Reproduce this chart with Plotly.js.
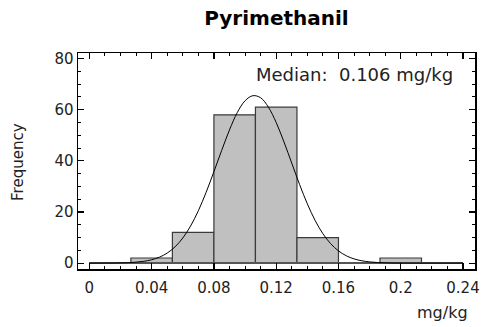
<!DOCTYPE html>
<html><head><meta charset="utf-8">
<script src="https://cdn.plot.ly/plotly-3.0.1.min.js"></script>
<style>html,body{margin:0;padding:0;background:#fff}#chart{width:482px;height:327px}</style>
</head><body><div id="chart"></div>
<script>
// Histogram bins (lower edges, mg/kg) and counts
const binLow = [0, 0.02667, 0.05333, 0.08, 0.10667, 0.13333, 0.16, 0.18667, 0.21333];
const binHigh = [0.02667, 0.05333, 0.08, 0.10667, 0.13333, 0.16, 0.18667, 0.21333, 0.24];
const counts = [0, 2, 12, 58, 61, 10, 0, 2, 0];
// Fitted normal curve
const curveX = [0, 0.005, 0.01, 0.015, 0.02, 0.025, 0.03, 0.035, 0.04, 0.045, 0.05, 0.055, 0.06, 0.065, 0.07, 0.075, 0.08, 0.085, 0.09, 0.095, 0.1, 0.105, 0.11, 0.115, 0.12, 0.125, 0.13, 0.135, 0.14, 0.145, 0.15, 0.155, 0.16, 0.165, 0.17, 0.175, 0.18, 0.185, 0.19, 0.195, 0.2, 0.21, 0.22, 0.23, 0.24];
const curveY = [0, 0.01, 0.02, 0.04, 0.09, 0.18, 0.37, 0.71, 1.31, 2.32, 3.93, 6.35, 9.82, 14.5, 20.5, 27.7, 35.8, 44.1, 52.1, 58.9, 63.5, 65.5, 64.7, 61.0, 55.0, 47.4, 39.1, 30.8, 23.2, 16.7, 11.5, 7.6, 4.79, 2.88, 1.66, 0.91, 0.48, 0.24, 0.12, 0.05, 0.02, 0, 0, 0, 0];
const xTicks = [0, 0.04, 0.08, 0.12, 0.16, 0.2, 0.24];
const yTicks = [0, 20, 40, 60, 80];
const medianLabel = "Median:  0.106 mg/kg";

const centers = binLow.map((v, i) => (v + binHigh[i]) / 2);
const widths = binLow.map((v, i) => binHigh[i] - v);
const FONT = "DejaVu Sans, sans-serif";

const traces = [
  {type: "scatter", mode: "lines", x: [binLow[0], binHigh[binHigh.length - 1]], y: [0, 0],
   line: {color: "#555", width: 2}, hoverinfo: "skip", showlegend: false},
  {type: "bar", x: centers, y: counts, width: widths,
   marker: {color: "#c0c0c0", line: {color: "#3a3a3a", width: 1.2}}, showlegend: false},
  {type: "scatter", mode: "lines", x: curveX, y: curveY, line: {color: "#000", width: 1, shape: "spline"}, showlegend: false}
];

const layout = {
  width: 482, height: 327,
  margin: {l: 78, r: 7, t: 53, b: 58},
  paper_bgcolor: "#fff", plot_bgcolor: "#fff",
  font: {family: FONT, color: "#222", size: 15},
  title: {text: "<b>Pyrimethanil</b>", font: {family: FONT, size: 20, color: "#000"},
          xref: "paper", x: 0.5, xanchor: "center", y: 0.945, yanchor: "middle"},
  bargap: 0,
  xaxis: {range: [-0.0073, 0.2477], tickvals: xTicks, ticktext: xTicks.map(String),
          ticks: "inside", ticklen: 6, tickwidth: 1.2, tickcolor: "#000", ticklabelstandoff: 4,
          minor: {dtick: 0.01, tick0: 0, ticks: "inside", ticklen: 3, tickcolor: "#000", tickwidth: 1},
          showline: true, linecolor: "#000", linewidth: 1.5, mirror: "allticks",
          showgrid: false, zeroline: false, tickfont: {size: 15, family: FONT}},
  yaxis: {range: [-2.3, 82.2], tickvals: yTicks, ticktext: yTicks.map(String),
          ticks: "inside", ticklen: 6, tickwidth: 1.2, tickcolor: "#000",
          minor: {dtick: 5, tick0: 0, ticks: "inside", ticklen: 3, tickcolor: "#000", tickwidth: 1},
          showline: true, linecolor: "#000", linewidth: 1.5, mirror: "allticks",
          showgrid: false, zeroline: false, tickfont: {size: 15, family: FONT}},
  annotations: [
    {text: medianLabel, xref: "paper", yref: "paper", x: 0.95, y: 0.901, xanchor: "right", yanchor: "middle",
     showarrow: false, font: {size: 18, family: FONT, color: "#222"}},
    {text: "mg/kg", xref: "paper", yref: "paper", x: 0.988, y: -0.203, xanchor: "right", yanchor: "middle",
     showarrow: false, font: {size: 16, family: FONT, color: "#222"}},
    {text: "Frequency", xref: "paper", yref: "paper", x: -0.151, y: 0.496, xanchor: "center", yanchor: "middle",
     textangle: -90, showarrow: false, font: {size: 15, family: FONT, color: "#222"}}
  ]
};
Plotly.newPlot("chart", traces, layout, {displayModeBar: false, staticPlot: true});
</script></body></html>
